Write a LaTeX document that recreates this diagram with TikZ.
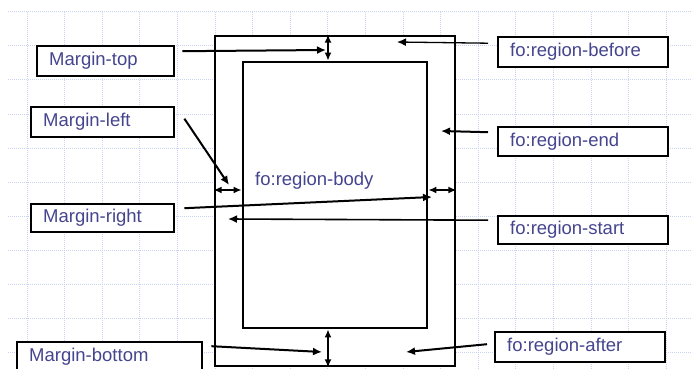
\documentclass[tikz,border=0pt]{standalone}
\usepackage{fontspec}
\usetikzlibrary{arrows.meta}
\newfontfamily\labelfont{Liberation Sans}
\definecolor{ink}{HTML}{45458F}
\definecolor{gridblue}{HTML}{CAD3F4}
\tikzset{
  gridline/.style={gridblue, densely dotted, line width=1pt},
  page/.style={draw, fill=white, line width=2.8pt, inner sep=0pt},
  box/.style={draw, fill=white, line width=2.4pt, anchor=north west, minimum height=30pt,
    inner xsep=12pt, align=left, text=ink, font=\labelfont\fontsize{18.5}{20}\selectfont},
  link/.style={-{Latex[length=9pt,width=8pt]}, line width=2pt},
  dim/.style={{Latex[length=8pt,width=7pt]}-{Latex[length=8pt,width=7pt]}, line width=2pt},
}

\begin{document}
\begin{tikzpicture}[x=1pt, y=-1pt]
    \useasboundingbox (0,0) rectangle (691,369);
    % background grid
    \foreach \gx in {0,...,17}
      \draw[gridline] ({27+37.6*\gx},12) -- ({27+37.6*\gx},369);
    \foreach \gy in {0,...,10}
      \draw[gridline] (8,{12+34*\gy}) -- (691,{12+34*\gy});

    % the page and its body region
    \node[page, minimum width=240pt, minimum height=330pt] (page) at (335,201) {};
    \node[page, minimum width=184pt, minimum height=266pt] (body) at (335,195) {};
    \node[anchor=west, text=ink, font=\labelfont\fontsize{18.5}{20}\selectfont, inner sep=0pt] (bodylabel) at (255,181) {fo:region-body};

    % margin labels
    \node[box, text width=113pt] (mtop) at (36,45) {Margin-top};
    \node[box, text width=119pt] (mleft) at (30,106) {Margin-left};
    \node[box, text width=119pt, minimum height=28pt] (mright) at (30,203) {Margin-right};
    \node[box, text width=161pt] (mbottom) at (16,341) {Margin-bottom};

    % region labels
    \node[box, text width=146pt] (before) at (497,36) {fo:region-before};
    \node[box, text width=146pt, minimum height=29pt] (rend) at (497,126) {fo:region-end};
    \node[box, text width=146pt, minimum height=28pt] (rstart) at (497,215) {fo:region-start};
    \node[box, text width=146pt] (after) at (494,331) {fo:region-after};

    % margins
    \coordinate (mid) at (335,190);
    \draw[dim] ([xshift=-7pt]page.north) -- ([xshift=-7pt]body.north);
    \draw[dim] ([xshift=-7pt]body.south) -- ([xshift=-7pt]page.south);
    \draw[dim] (page.west |- mid) -- (body.west |- mid);
    \draw[dim] (body.east |- mid) -- (page.east |- mid);

    % pointers
    \coordinate (tophit) at (326,50);
    \coordinate (lefthit) at (229,185);
    \coordinate (righthit) at (432,197);
    \coordinate (bottomhit) at (322,352);
    \coordinate (beforehit) at (397,42);
    \coordinate (endhit) at (441,131);
    \coordinate (starthit) at (228,219);
    \coordinate (afterhit) at (406,352);

    \draw[link] ([xshift=7pt, yshift=10pt]mtop.east) -- (tophit);
    \draw[link] ([xshift=9pt, yshift=3.5pt]mleft.east) -- (lefthit);
    \draw[link] ([xshift=9pt, yshift=10pt]mright.east) -- (righthit);
    \draw[link] ([xshift=8pt, yshift=11pt]mbottom.east) -- (bottomhit);
    \draw[link, line width=1.3pt] ([xshift=-9pt, yshift=9pt]before.west) -- (beforehit);
    \draw[link] ([xshift=-9pt, yshift=9.5pt]rend.west) -- (endhit);
    \draw[link, line width=1.6pt] ([xshift=-9pt, yshift=10pt]rstart.west) -- (starthit);
    \draw[link] ([xshift=-7pt, yshift=3pt]after.west) -- (afterhit);
\end{tikzpicture}
\end{document}
